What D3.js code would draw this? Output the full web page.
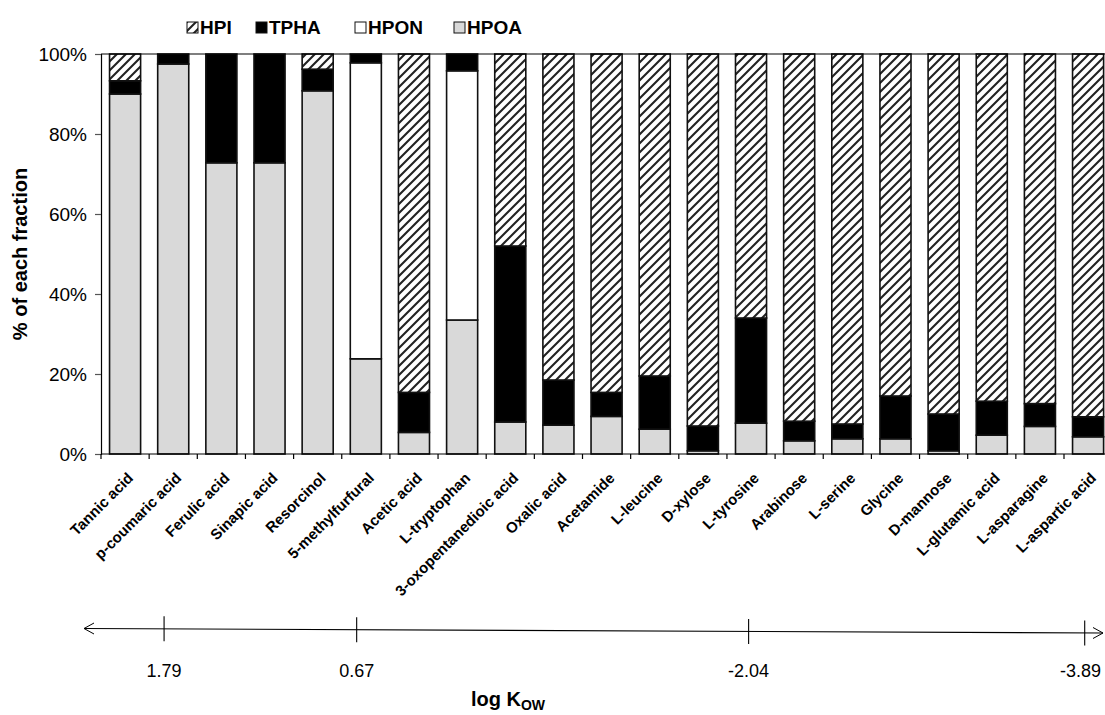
<!DOCTYPE html>
<html>
<head>
<meta charset="utf-8">
<script src="https://cdn.jsdelivr.net/npm/d3@7"></script>
<style>
  html, body { margin: 0; padding: 0; background: #fff; }
  svg { display: block; font-family: "Liberation Sans", Arial, sans-serif; }
</style>
</head>
<body>
<svg id="chart" width="1105" height="715"></svg>
<script>
// Compounds, ordered by decreasing log Kow
const categories = [
  "Tannic acid", "p-coumaric acid", "Ferulic acid", "Sinapic acid", "Resorcinol",
  "5-methylfurfural", "Acetic acid", "L-tryptophan", "3-oxopentanedioic acid",
  "Oxalic acid", "Acetamide", "L-leucine", "D-xylose", "L-tyrosine", "Arabinose",
  "L-serine", "Glycine", "D-mannose", "L-glutamic acid", "L-asparagine", "L-aspartic acid"
];

// Percentage of each fraction per compound
const HPOA = [90.0, 97.5, 72.8, 72.8, 90.8, 23.8, 5.4, 33.5, 8.0, 7.2, 9.4, 6.2, 0.8, 7.7, 3.3, 3.8, 3.8, 0.8, 4.7, 6.9, 4.3];
const HPON = [0, 0, 0, 0, 0, 74.0, 0, 62.3, 0, 0, 0, 0, 0, 0, 0, 0, 0, 0, 0, 0, 0];
const TPHA = [3.3, 2.5, 27.2, 27.2, 5.4, 2.2, 10.0, 4.2, 44.0, 11.3, 6.0, 13.3, 6.2, 26.3, 4.9, 3.7, 10.7, 9.2, 8.5, 5.7, 5.0];
const HPI  = [6.7, 0, 0, 0, 3.8, 0, 84.6, 0, 48.0, 81.5, 84.6, 80.5, 93.0, 66.0, 91.8, 92.5, 85.5, 90.0, 86.8, 87.4, 90.7];

// Stack order (bottom to top) and legend order
const stackKeys = ["HPOA", "HPON", "TPHA", "HPI"];
const legendKeys = ["HPI", "TPHA", "HPON", "HPOA"];

const yTicks = [0, 20, 40, 60, 80, 100];
const kowTicks = [1.79, 0.67, -2.04, -3.89];

const rows = categories.map((c, i) => ({
  name: c, HPOA: HPOA[i], HPON: HPON[i], TPHA: TPHA[i], HPI: HPI[i]
}));

const svg = d3.select("#chart");
const defs = svg.append("defs");

// Diagonal hatching for the HPI fraction
const pat = defs.append("pattern")
  .attr("id", "hatch")
  .attr("patternUnits", "userSpaceOnUse")
  .attr("width", 9).attr("height", 9);
pat.append("rect").attr("width", 9).attr("height", 9).attr("fill", "#fff");
pat.append("path")
  .attr("d", "M-2,11 L11,-2 M-2,2 L2,-2 M7,11 L11,7")
  .attr("stroke", "#222").attr("stroke-width", 2.1);

const fills = { HPI: "url(#hatch)", TPHA: "#000", HPON: "#fff", HPOA: "#d9d9d9" };

const plot = { left: 101, top: 54, bottom: 454 };
const step = 48.15;
plot.right = plot.left + step * categories.length;

const x = d3.scaleBand()
  .domain(categories)
  .range([plot.left, plot.right])
  .paddingInner(0.355)
  .paddingOuter(0.1775);

const y = d3.scaleLinear().domain([0, 100]).range([plot.bottom, plot.top]);

const series = d3.stack().keys(stackKeys)(rows);

// Bars
const g = svg.append("g");
series.forEach(s => {
  g.append("g")
    .selectAll("rect")
    .data(s.filter(d => d[1] - d[0] > 0))
    .join("rect")
    .attr("x", d => x(d.data.name))
    .attr("width", x.bandwidth())
    .attr("y", d => y(d[1]))
    .attr("height", d => y(d[0]) - y(d[1]))
    .attr("fill", fills[s.key])
    .attr("stroke", "#111")
    .attr("stroke-width", 1.6);
});

// Top frame line at 100%
svg.append("line")
  .attr("x1", plot.left).attr("x2", plot.right)
  .attr("y1", y(100)).attr("y2", y(100))
  .attr("stroke", "#000").attr("stroke-width", 1.2);

// Y axis
const yAxis = svg.append("g")
  .attr("transform", `translate(${plot.left},0)`)
  .call(d3.axisLeft(y).tickValues(yTicks).tickSize(6).tickPadding(8).tickFormat(d => d + "%"));
yAxis.select(".domain").attr("stroke", "#000").attr("stroke-width", 1.2);
yAxis.selectAll(".tick line").attr("stroke", "#555").attr("stroke-width", 1.2);
yAxis.selectAll("text").attr("font-size", 19).attr("fill", "#000")
  .attr("font-family", "Liberation Sans, Arial, sans-serif");

// X axis baseline with ticks between categories
const xAxis = svg.append("g");
xAxis.append("line")
  .attr("x1", plot.left).attr("x2", plot.right)
  .attr("y1", plot.bottom).attr("y2", plot.bottom)
  .attr("stroke", "#000").attr("stroke-width", 1.2);
xAxis.selectAll("line.sep")
  .data(d3.range(categories.length + 1))
  .join("line")
  .attr("class", "sep")
  .attr("x1", i => plot.left + i * x.step())
  .attr("x2", i => plot.left + i * x.step())
  .attr("y1", plot.bottom).attr("y2", plot.bottom + 5)
  .attr("stroke", "#000").attr("stroke-width", 1.2);

// Rotated category labels
xAxis.selectAll("text")
  .data(categories)
  .join("text")
  .attr("transform", d => `translate(${x(d) + x.bandwidth() / 2 + 9},${plot.bottom + 25}) rotate(-45)`)
  .attr("text-anchor", "end")
  .attr("font-size", 15)
  .attr("font-weight", "bold")
  .text(d => d);

// Y axis title
svg.append("text")
  .attr("transform", `translate(27,${(plot.top + plot.bottom) / 2}) rotate(-90)`)
  .attr("text-anchor", "middle")
  .attr("font-size", 20)
  .attr("font-weight", "bold")
  .text("% of each fraction");

// Legend
const legendX = [187, 256, 355, 454];
const legend = svg.append("g");
legendKeys.forEach((k, i) => {
  const lg = legend.append("g").attr("transform", `translate(${legendX[i]},22)`);
  lg.append("rect")
    .attr("width", 11).attr("height", 11)
    .attr("fill", fills[k]).attr("stroke", "#111").attr("stroke-width", 1);
  lg.append("text")
    .attr("x", 13).attr("y", 12)
    .attr("font-size", 19).attr("font-weight", "bold")
    .text(k);
});

// log Kow scale under the compounds (schematic double-arrow axis)
const kowScale = d3.scaleLinear()
  .domain(kowTicks)
  .range([1.31, 5.31, 13.45, 20.43].map(b => plot.left + b * step));

const arrowX0 = 84, arrowX1 = 1103;
const lineY = d3.scaleLinear().domain([arrowX0, arrowX1]).range([628.5, 633]);

const kow = svg.append("g").attr("stroke", "#000").attr("fill", "none");
kow.append("line")
  .attr("x1", arrowX0).attr("y1", lineY(arrowX0))
  .attr("x2", arrowX1).attr("y2", lineY(arrowX1))
  .attr("stroke-width", 1.1);
kow.append("path")
  .attr("d", `M${arrowX0 + 10},${lineY(arrowX0) - 5.5} L${arrowX0},${lineY(arrowX0)} L${arrowX0 + 10},${lineY(arrowX0) + 5.5}`)
  .attr("stroke-width", 1);
kow.append("path")
  .attr("d", `M${arrowX1 - 10},${lineY(arrowX1) - 5.5} L${arrowX1},${lineY(arrowX1)} L${arrowX1 - 10},${lineY(arrowX1) + 5.5}`)
  .attr("stroke-width", 1);
kow.selectAll("line.kt")
  .data(kowTicks)
  .join("line")
  .attr("class", "kt")
  .attr("x1", d => kowScale(d)).attr("x2", d => kowScale(d))
  .attr("y1", d => lineY(kowScale(d)) - 12.5)
  .attr("y2", d => lineY(kowScale(d)) + 12.5)
  .attr("stroke-width", 1.1);

// Tick values, kept inside the drawing on the right
const kowLabels = svg.append("g").selectAll("text")
  .data(kowTicks)
  .join("text")
  .attr("x", d => kowScale(d))
  .attr("y", 677)
  .attr("text-anchor", "middle")
  .attr("font-size", 18)
  .text(d => d.toFixed(2));
kowLabels.each(function () {
  const bb = this.getBBox();
  const over = bb.x + bb.width - 1101;
  if (over > 0) d3.select(this).attr("x", +d3.select(this).attr("x") - over);
});

const kt = svg.append("text")
  .attr("x", 508).attr("y", 706)
  .attr("text-anchor", "middle")
  .attr("font-size", 20)
  .attr("font-weight", "bold");
kt.append("tspan").text("log K");
kt.append("tspan").attr("dy", 4).attr("font-size", 14).text("OW");
</script>
</body>
</html>
